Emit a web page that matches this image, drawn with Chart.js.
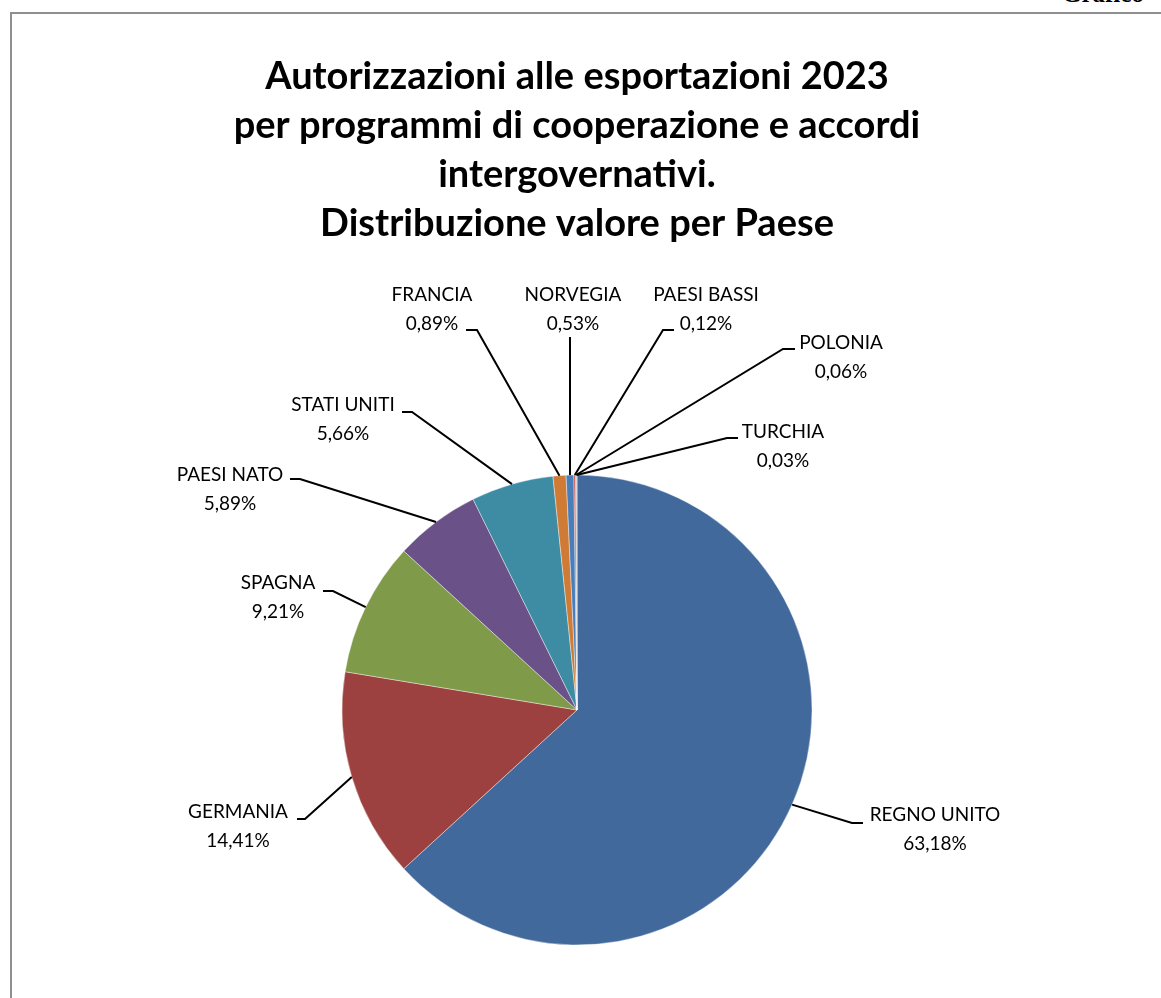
<!DOCTYPE html>
<html>
<head>
<meta charset="utf-8">
<script src="https://cdn.jsdelivr.net/npm/chart.js@4.4.1/dist/chart.umd.min.js"></script>
<style>
  body { margin: 0; background: #fff; overflow: hidden; }
  #frame { position: absolute; left: 10px; top: 12px; right: 0; bottom: 0; border-left: 2px solid #8f8f8f; border-top: 2px solid #8f8f8f; }
  #tag { position: absolute; left: 1062px; top: -20px; font: bold 25px "Liberation Serif", serif; color: #000; }
  #chart { position: absolute; left: 0; top: 0; }
</style>
</head>
<body>
<div id="frame"></div>
<div id="tag">Grafico</div>
<canvas id="chart" width="1161" height="998"></canvas>
<script>
const categories = ['REGNO UNITO', 'GERMANIA', 'SPAGNA', 'PAESI NATO', 'STATI UNITI',
                    'FRANCIA', 'NORVEGIA', 'PAESI BASSI', 'POLONIA', 'TURCHIA'];
const shares = [63.18, 14.41, 9.21, 5.89, 5.66, 0.89, 0.53, 0.12, 0.06, 0.03];
const sliceColors = ['#41699b', '#9c413f', '#7f9a48', '#6a5187', '#3d8ca4',
                     '#cf7b35', '#4a7ebb', '#be4b48', '#98b954', '#7f63a1'];
const titleLines = ['Autorizzazioni alle esportazioni 2023',
                    'per programmi di cooperazione e accordi',
                    'intergovernativi.',
                    'Distribuzione valore per Paese'];

// label placement relative to the pie centre: text centre, elbow of leader, tick length
const labelLayout = [
  { tx: 358, ty: 105, ex: 275, ey: 113, tick: 11 },
  { tx: -339, ty: 102, ex: -272, ey: 109, tick: -8 },
  { tx: -299, ty: -127, ex: -244, ey: -119, tick: -10 },
  { tx: -347, ty: -235, ex: -277, ey: -231, tick: -10 },
  { tx: -234, ty: -305, ex: -165, ey: -298, tick: -10 },
  { tx: -145, ty: -415, ex: -100, ey: -380, tick: -11 },
  { tx: -4, ty: -415, ex: -7, ey: -373, tick: 0 },
  { tx: 129, ty: -415, ex: 86, ey: -380, tick: 11 },
  { tx: 264, ty: -367, ex: 206, ey: -361, tick: 12 },
  { tx: 206, ty: -278, ex: 150, ey: -272, tick: 11 }
];

const pct = v => v.toFixed(2).replace('.', ',') + '%';

const leaderLabels = {
  id: 'leaderLabels',
  afterDatasetsDraw(chart) {
    const ctx = chart.ctx;
    const meta = chart.getDatasetMeta(0);
    ctx.save();
    ctx.strokeStyle = '#000';
    ctx.lineWidth = 2;
    ctx.fillStyle = '#000';
    ctx.font = '19px Lato';
    ctx.textAlign = 'center';
    ctx.textBaseline = 'middle';
    meta.data.forEach((arc, i) => {
      const p = arc.getProps(['x', 'y', 'startAngle', 'endAngle', 'outerRadius'], true);
      const mid = (p.startAngle + p.endAngle) / 2;
      const sx = p.x + Math.cos(mid) * p.outerRadius;
      const sy = p.y + Math.sin(mid) * p.outerRadius;
      const L = labelLayout[i];
      ctx.beginPath();
      ctx.moveTo(sx, sy);
      ctx.lineTo(p.x + L.ex, p.y + L.ey);
      if (L.tick) ctx.lineTo(p.x + L.ex + L.tick, p.y + L.ey);
      ctx.stroke();
      ctx.fillText(categories[i], p.x + L.tx, p.y + L.ty);
      ctx.fillText(pct(shares[i]), p.x + L.tx, p.y + L.ty + 29);
    });
    ctx.restore();
  }
};

new Chart(document.getElementById('chart'), {
  type: 'pie',
  data: {
    labels: categories,
    datasets: [{
      data: shares,
      backgroundColor: sliceColors,
      borderColor: 'rgba(255,255,255,0.5)',
      borderWidth: 0.8
    }]
  },
  options: {
    responsive: false,
    animation: false,
    radius: 235,
    layout: { padding: { top: 0, left: 0, right: 7, bottom: 20 } },
    plugins: {
      legend: { display: false },
      tooltip: { enabled: false },
      title: {
        display: true,
        text: titleLines,
        color: '#000',
        font: { family: 'Lato', size: 38, weight: 'bold', lineHeight: 1.29 },
        padding: { top: 52.5, bottom: 193.4 }
      }
    }
  },
  plugins: [leaderLabels]
});
</script>
</body>
</html>
